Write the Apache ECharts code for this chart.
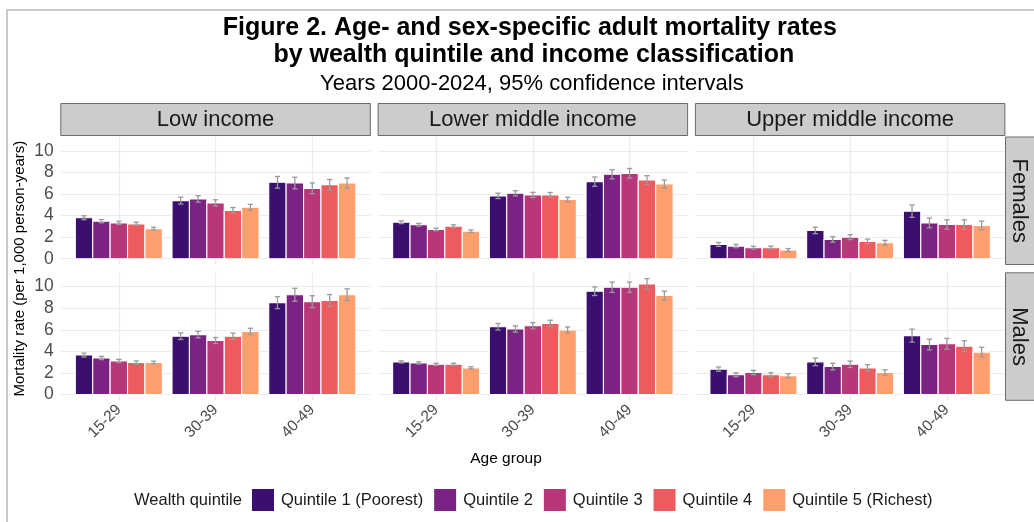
<!DOCTYPE html>
<html>
<head>
<meta charset="utf-8">
<title>Adult mortality rates by wealth quintile</title>
<script src="https://cdn.jsdelivr.net/npm/echarts@6/dist/echarts.min.js"></script>
<style>
  html, body { margin: 0; padding: 0; background: #ffffff; }
  #chart { width: 1034px; height: 522px; }
</style>
</head>
<body>
<div id="chart"></div>
<script>
// Categories
const ageGroups = ['15-29', '30-39', '40-49'];
const quintiles = ['Quintile 1 (Poorest)', 'Quintile 2', 'Quintile 3', 'Quintile 4', 'Quintile 5 (Richest)'];
const incomeGroups = ['Low income', 'Lower middle income', 'Upper middle income'];
const sexes = ['Females', 'Males'];
const yTicks = [0, 2, 4, 6, 8, 10];

// Mortality rate per 1,000 person-years: rows = age group, columns = quintile
const rateFemaleLow = [[3.80, 3.48, 3.32, 3.23, 2.78], [5.38, 5.54, 5.17, 4.46, 4.77], [7.08, 7.02, 6.52, 6.86, 7.02]];
const lowerFemaleLow = [[3.62, 3.33, 3.17, 3.09, 2.64], [5.06, 5.24, 4.88, 4.19, 4.50], [6.54, 6.48, 6.02, 6.36, 6.55]];
const upperFemaleLow = [[3.98, 3.63, 3.47, 3.38, 2.92], [5.70, 5.84, 5.46, 4.74, 5.04], [7.62, 7.55, 7.02, 7.34, 7.48]];

const rateFemaleLowerMid = [[3.38, 3.14, 2.71, 3.02, 2.55], [5.82, 6.06, 5.91, 5.91, 5.48], [7.14, 7.82, 7.91, 7.29, 6.92]];
const lowerFemaleLowerMid = [[3.25, 3.01, 2.59, 2.90, 2.43], [5.57, 5.82, 5.67, 5.68, 5.26], [6.71, 7.39, 7.46, 6.89, 6.55]];
const upperFemaleLowerMid = [[3.51, 3.27, 2.83, 3.14, 2.67], [6.07, 6.30, 6.15, 6.14, 5.70], [7.57, 8.25, 8.36, 7.69, 7.29]];

const rateFemaleUpperMid = [[1.32, 1.17, 1.02, 1.02, 0.80], [2.62, 1.78, 2.00, 1.60, 1.48], [4.40, 3.32, 3.17, 3.17, 3.08]];
const lowerFemaleUpperMid = [[1.14, 1.02, 0.89, 0.88, 0.66], [2.32, 1.53, 1.77, 1.38, 1.26], [3.83, 2.87, 2.74, 2.74, 2.68]];
const upperFemaleUpperMid = [[1.50, 1.32, 1.15, 1.16, 0.94], [2.92, 2.03, 2.23, 1.82, 1.70], [4.97, 3.77, 3.60, 3.60, 3.48]];

const rateMaleLow = [[3.66, 3.38, 3.11, 2.96, 2.96], [5.40, 5.55, 5.00, 5.40, 5.85], [8.51, 9.24, 8.60, 8.72, 9.24]];
const lowerMaleLow = [[3.48, 3.23, 2.96, 2.81, 2.83], [5.10, 5.25, 4.72, 5.11, 5.56], [7.96, 8.64, 8.05, 8.17, 8.69]];
const upperMaleLow = [[3.84, 3.53, 3.26, 3.11, 3.09], [5.70, 5.85, 5.28, 5.69, 6.14], [9.06, 9.84, 9.15, 9.27, 9.79]];

const rateMaleLowerMid = [[3.02, 2.93, 2.80, 2.80, 2.47], [6.28, 6.07, 6.37, 6.59, 5.98], [9.57, 9.94, 9.94, 10.24, 9.18]];
const lowerMaleLowerMid = [[2.92, 2.83, 2.70, 2.70, 2.37], [5.98, 5.78, 6.08, 6.30, 5.70], [9.17, 9.46, 9.46, 9.74, 8.78]];
const upperMaleLowerMid = [[3.12, 3.03, 2.90, 2.90, 2.57], [6.58, 6.36, 6.66, 6.88, 6.26], [9.97, 10.42, 10.42, 10.74, 9.58]];

const rateMaleUpperMid = [[2.35, 1.83, 2.04, 1.83, 1.74], [3.02, 2.59, 2.80, 2.47, 2.04], [5.46, 4.63, 4.70, 4.48, 3.93]];
const lowerMaleUpperMid = [[2.15, 1.65, 1.84, 1.64, 1.55], [2.67, 2.29, 2.50, 2.18, 1.79], [4.86, 4.13, 4.20, 3.98, 3.48]];
const upperMaleUpperMid = [[2.55, 2.01, 2.24, 2.02, 1.93], [3.37, 2.89, 3.10, 2.76, 2.29], [6.06, 5.13, 5.20, 4.98, 4.38]];

// Panels in facet order: [sex row][income column]
const panels = [
  [
    { rate: rateFemaleLow, lower: lowerFemaleLow, upper: upperFemaleLow },
    { rate: rateFemaleLowerMid, lower: lowerFemaleLowerMid, upper: upperFemaleLowerMid },
    { rate: rateFemaleUpperMid, lower: lowerFemaleUpperMid, upper: upperFemaleUpperMid }
  ],
  [
    { rate: rateMaleLow, lower: lowerMaleLow, upper: upperMaleLow },
    { rate: rateMaleLowerMid, lower: lowerMaleLowerMid, upper: upperMaleLowerMid },
    { rate: rateMaleUpperMid, lower: lowerMaleUpperMid, upper: upperMaleUpperMid }
  ]
];

// Magma palette for the wealth quintiles
const colors = ['#3B0F70', '#7B2382', '#B73779', '#EE5B5E', '#FE9F6D'];

// Layout
const FONT = '"Liberation Sans", Arial, Helvetica, sans-serif';
const colLeft = [60.8, 378.1, 695.4];
const panelW = 309.5;
const rowTop = [137, 272.8];
const panelH = 127.5;
const DODGE = 0.18;      // width of each bar in category units
const CAP = 0.055;       // error bar cap width in category units

// Shared y range: 5% padding around 0 and the largest upper bound
let maxUpper = 0;
panels.forEach(r => r.forEach(p => p.upper.forEach(a => a.forEach(v => { maxUpper = Math.max(maxUpper, v); }))));
const yMin = -0.05 * maxUpper;
const yMax = maxUpper * 1.05;

const grids = [], xAxes = [], yAxes = [], series = [];

function makeRender(q) {
  return function (params, api) {
    const cat = api.value(0);
    const v = api.value(1);
    const lo = api.value(2);
    const hi = api.value(3);
    const xc = cat + (q - 2) * DODGE;
    const tl = api.coord([xc - DODGE / 2, v]);
    const br = api.coord([xc + DODGE / 2, 0]);
    const top = api.coord([xc, hi]);
    const bot = api.coord([xc, lo]);
    const capHalf = api.size([CAP, 0])[0] / 2;
    const eb = { stroke: '#9a9a9a', lineWidth: 1.3 };
    return {
      type: 'group',
      children: [
        {
          type: 'rect',
          shape: { x: tl[0], y: tl[1], width: br[0] - tl[0], height: br[1] - tl[1] },
          style: { fill: colors[q], stroke: '#ffffff', lineWidth: 1.1 }
        },
        { type: 'line', shape: { x1: top[0], y1: top[1], x2: bot[0], y2: bot[1] }, style: eb },
        { type: 'line', shape: { x1: top[0] - capHalf, y1: top[1], x2: top[0] + capHalf, y2: top[1] }, style: eb },
        { type: 'line', shape: { x1: bot[0] - capHalf, y1: bot[1], x2: bot[0] + capHalf, y2: bot[1] }, style: eb }
      ]
    };
  };
}

let gi = 0;
for (let r = 0; r < 2; r++) {
  for (let c = 0; c < 3; c++) {
    grids.push({ left: colLeft[c], top: rowTop[r], width: panelW, height: panelH, containLabel: false });
    xAxes.push({
      type: 'value', gridIndex: gi, min: 0.4, max: 3.6,
      axisLine: { show: false },
      axisTick: { show: false, customValues: [1, 2, 3] },
      axisLabel: {
        show: r === 1, customValues: [1, 2, 3], rotate: 45, margin: 7,
        fontSize: 15.5, color: '#4d4d4d', fontFamily: FONT,
        formatter: v => ageGroups[Math.round(v) - 1] || ''
      },
      splitLine: { show: true, lineStyle: { color: '#ebebeb', width: 1.2 } }
    });
    yAxes.push({
      type: 'value', gridIndex: gi, min: yMin, max: yMax,
      axisLine: { show: false },
      axisTick: { show: false, customValues: yTicks },
      axisLabel: {
        show: c === 0, customValues: yTicks, margin: 7,
        fontSize: 17.5, color: '#4d4d4d', fontFamily: FONT
      },
      splitLine: { show: true, lineStyle: { color: '#ebebeb', width: 1.2 } }
    });
    const p = panels[r][c];
    for (let q = 0; q < 5; q++) {
      const data = ageGroups.map((a, i) => [i + 1, p.rate[i][q], p.lower[i][q], p.upper[i][q]]);
      series.push({
        type: 'custom', name: quintiles[q], xAxisIndex: gi, yAxisIndex: gi,
        itemStyle: { color: colors[q] },
        encode: { x: 0, y: [1, 2, 3] },
        renderItem: makeRender(q),
        data: data
      });
    }
    gi++;
  }
}

// Outer frame, titles, facet strips and axis titles
const graphics = [
  { type: 'rect', shape: { x: 7, y: 10, width: 1100, height: 600 }, style: { fill: 'none', stroke: '#b8b8b8', lineWidth: 1.5 }, silent: true }
];

const titleCx = colLeft[0] + (colLeft[2] + panelW - colLeft[0]) / 2;
graphics.push(
  { type: 'text', x: titleCx - 3, y: 28, style: { text: 'Figure 2. Age- and sex-specific adult mortality rates', font: 'bold 25px ' + FONT, fill: '#000', align: 'center', verticalAlign: 'middle' } },
  { type: 'text', x: titleCx + 1, y: 55, style: { text: 'by wealth quintile and income classification', font: 'bold 25px ' + FONT, fill: '#000', align: 'center', verticalAlign: 'middle' } },
  { type: 'text', x: titleCx - 1, y: 84, style: { text: 'Years 2000-2024, 95% confidence intervals', font: '22px ' + FONT, fill: '#000', align: 'center', verticalAlign: 'middle' } }
);

for (let c = 0; c < 3; c++) {
  graphics.push({
    type: 'rect', shape: { x: colLeft[c], y: 103.5, width: panelW, height: 32 },
    style: { fill: '#cccccc', stroke: '#6b6b6b', lineWidth: 1 }, silent: true
  });
  graphics.push({
    type: 'text', x: colLeft[c] + panelW / 2, y: 120,
    style: { text: incomeGroups[c], font: '22px ' + FONT, fill: '#1a1a1a', align: 'center', verticalAlign: 'middle' }
  });
}
for (let r = 0; r < 2; r++) {
  graphics.push({
    type: 'rect', shape: { x: 1005.5, y: rowTop[r], width: 40, height: panelH },
    style: { fill: '#cccccc', stroke: '#6b6b6b', lineWidth: 1 }, silent: true
  });
  graphics.push({
    type: 'text', x: 1019.5, y: rowTop[r] + panelH / 2, rotation: -Math.PI / 2,
    style: { text: sexes[r], font: '22px ' + FONT, fill: '#1a1a1a', align: 'center', verticalAlign: 'middle' }
  });
}

graphics.push(
  { type: 'text', x: 20, y: (rowTop[0] + rowTop[1] + panelH) / 2, rotation: Math.PI / 2,
    style: { text: 'Mortality rate (per 1,000 person-years)', font: '15px ' + FONT, fill: '#000', align: 'center', verticalAlign: 'middle' } },
  { type: 'text', x: 506, y: 459,
    style: { text: 'Age group', font: '15.5px ' + FONT, fill: '#000', align: 'center', verticalAlign: 'middle' } },
  { type: 'text', x: 134, y: 500,
    style: { text: 'Wealth quintile', font: '16.5px ' + FONT, fill: '#1a1a1a', align: 'left', verticalAlign: 'middle' } }
);

const chart = echarts.init(document.getElementById('chart'), null, { renderer: 'canvas' });
chart.setOption({
  animation: false,
  backgroundColor: '#ffffff',
  grid: grids,
  xAxis: xAxes,
  yAxis: yAxes,
  legend: {
    data: quintiles.map((n, i) => ({ name: n, icon: 'rect', itemStyle: { color: colors[i] } })),
    left: 247, top: 484,
    itemWidth: 22, itemHeight: 22, itemGap: 11,
    textStyle: { fontSize: 16.5, color: '#1a1a1a', fontFamily: FONT, padding: [0, 0, 0, 2] }
  },
  graphic: graphics,
  series: series
});
</script>
</body>
</html>
